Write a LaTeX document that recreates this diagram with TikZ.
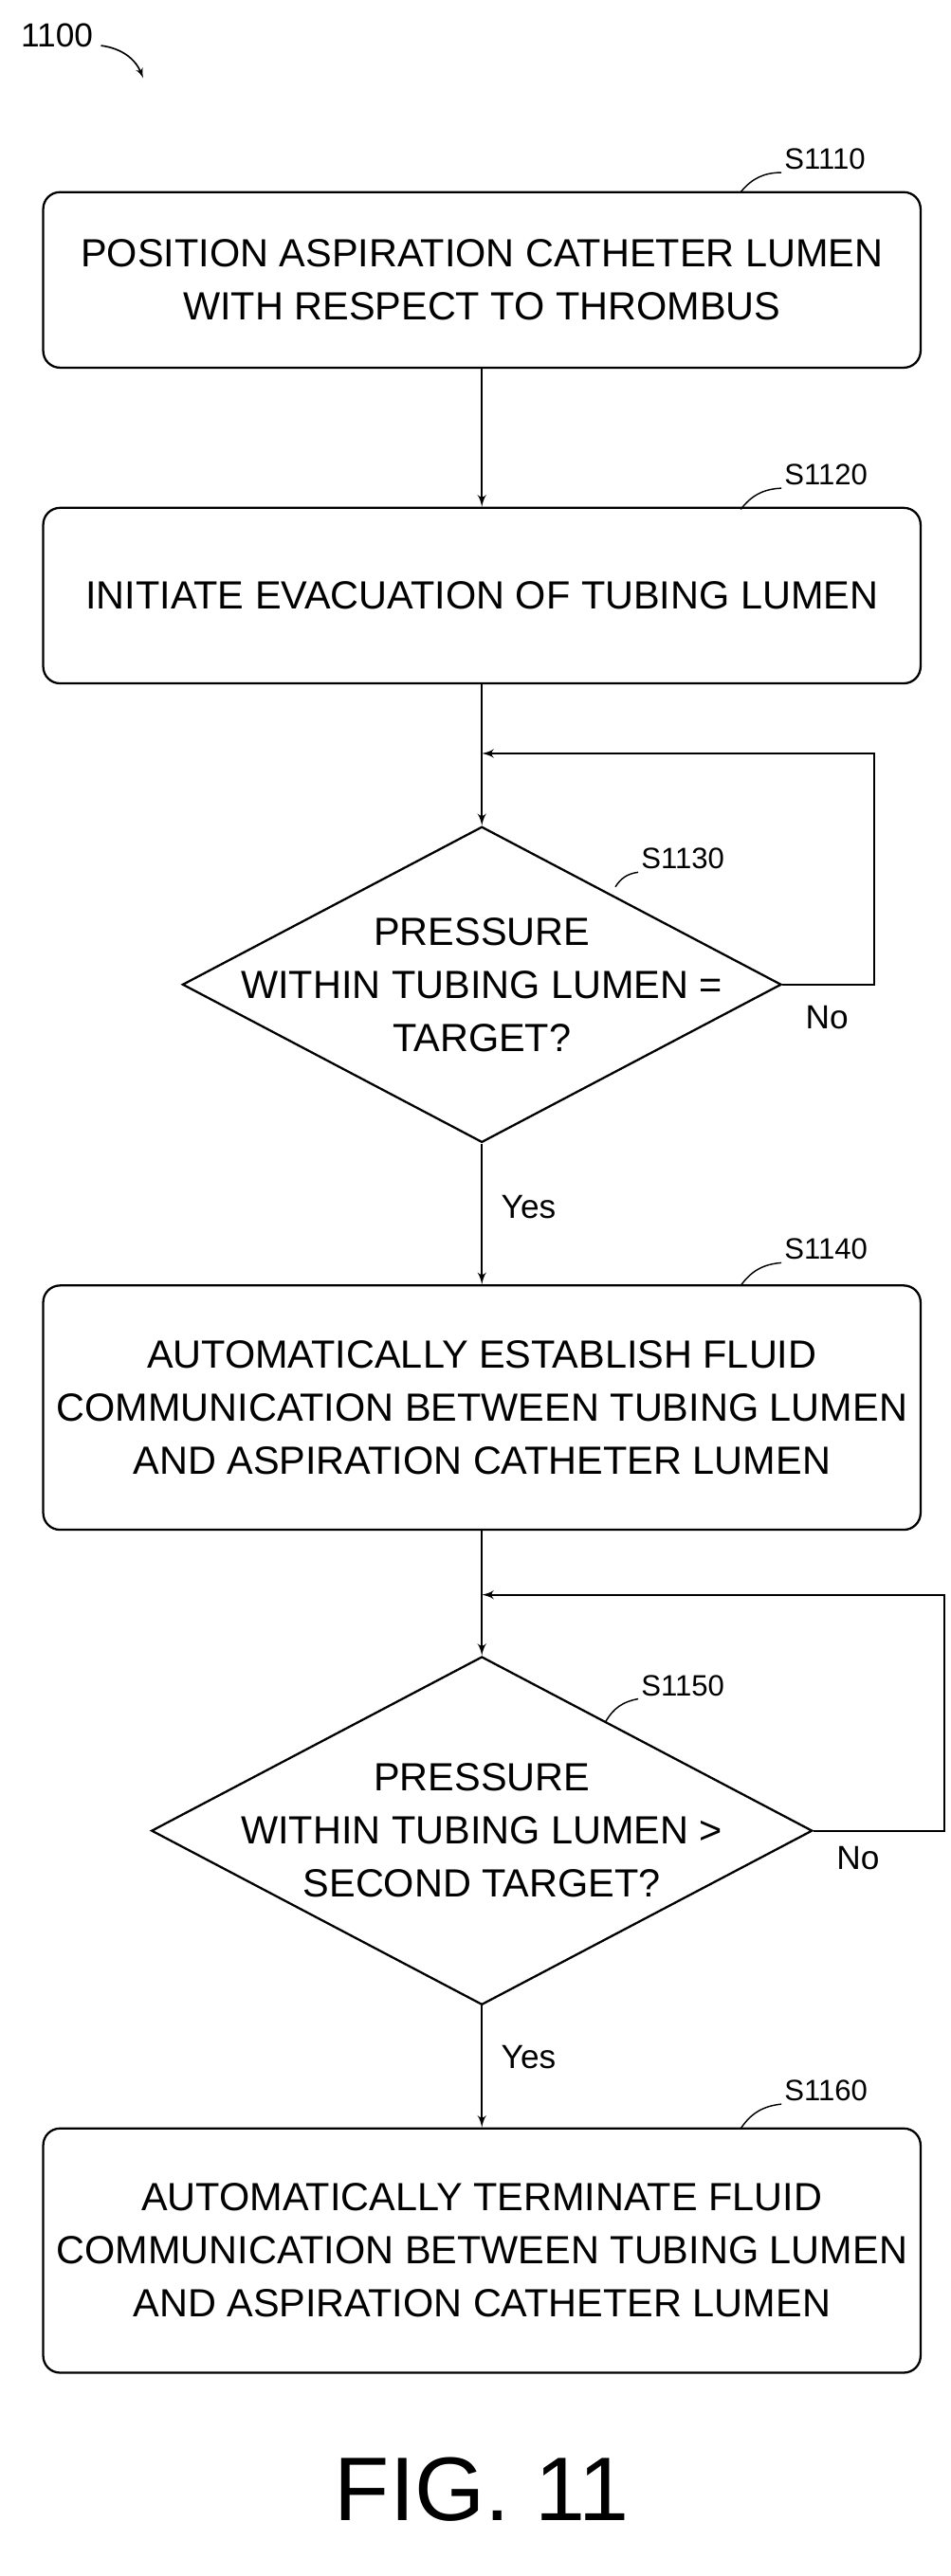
\documentclass[tikz,border=0pt]{standalone}
\usepackage{fontspec}
\setmainfont{Liberation Sans}
\usetikzlibrary{shapes.geometric,arrows,positioning,calc}
\tikzstyle{stepblock}=[draw, rectangle, rounded corners=0.3cm, minimum width=15.69cm, align=center, font=\fontsize{20}{27}\selectfont, line width=1.1pt]
\tikzstyle{decision}=[draw, diamond, inner sep=0pt, line width=1.1pt]
\tikzstyle{tag}=[font=\fontsize{15}{18}\selectfont, anchor=south west, inner sep=1pt]
\tikzstyle{answer}=[font=\fontsize{17}{20}\selectfont]
\begin{document}
\begin{tikzpicture}[x=0.02911cm, y=-0.02911cm, >=latex', line width=1.1pt]
  \useasboundingbox (0,0) rectangle (584,1583);
  \node[font=\fontsize{17}{20}\selectfont] (fignum) at (35,22) {1100};
  \draw[->, line width=0.8pt] (62,28) to[bend left=30] (88,48);
  % blocks
  \node[stepblock, minimum height=3.14cm] (b1) at (296,172) {POSITION ASPIRATION CATHETER LUMEN\\WITH RESPECT TO THROMBUS};
  \node[stepblock, minimum height=3.14cm] (b2) at (296,366) {INITIATE EVACUATION OF TUBING LUMEN};
  \node[decision, minimum width=10.71cm, minimum height=5.65cm] (d1) at (296,605) {};
  \node[align=center, font=\fontsize{20}{27}\selectfont] (t1) at (296,605) {PRESSURE\\WITHIN TUBING LUMEN =\\TARGET?};
  \node[stepblock, minimum height=4.37cm] (b3) at (296,865) {AUTOMATICALLY ESTABLISH FLUID\\COMMUNICATION BETWEEN TUBING LUMEN\\AND ASPIRATION CATHETER LUMEN};
  \node[decision, minimum width=11.82cm, minimum height=6.23cm] (d2) at (296,1125) {};
  \node[align=center, font=\fontsize{20}{27}\selectfont] (t2) at (296,1125) {PRESSURE\\WITHIN TUBING LUMEN >\\SECOND TARGET?};
  \node[stepblock, minimum height=4.37cm] (b4) at (296,1383) {AUTOMATICALLY TERMINATE FLUID\\COMMUNICATION BETWEEN TUBING LUMEN\\AND ASPIRATION CATHETER LUMEN};
  \node[font=\fontsize{46}{50}\selectfont] (fig) at (296,1530) {FIG. 11};
  % step tags
  \node[tag] (s1) at (480,106) {S1110};
  \node[tag] (s2) at (480,300) {S1120};
  \node[tag] (s3) at (392,536) {S1130};
  \node[tag] (s4) at (480,776) {S1140};
  \node[tag] (s5) at (392,1044) {S1150};
  \node[tag] (s6) at (480,1293) {S1160};
  \draw[line width=0.7pt] (s1.south west) to[bend right=25] (455,118);
  \draw[line width=0.7pt] (s2.south west) to[bend right=25] (455,313);
  \draw[line width=0.7pt] (s3.south west) to[bend right=25] (378,545);
  \draw[line width=0.7pt] (s4.south west) to[bend right=25] (455,790);
  \draw[line width=0.7pt] (s5.south west) to[bend right=25] (372,1058);
  \draw[line width=0.7pt] (s6.south west) to[bend right=25] (455,1308);
  % connectors
  \coordinate (loop1) at (537,463);
  \coordinate (loop2) at (580,980);
  \draw[->] (b1) -- (b2);
  \draw[->] (b2.south) -- (d1.north);
  \draw[->] (d1.east) -| (loop1) -- (296,463);
  \node[answer] (no1) at (508,625) {No};
  \draw[->] (d1.south) -- node[answer, pos=0.45, right=6pt] (yes1) {Yes} (b3.north);
  \draw[->] (b3.south) -- (d2.north);
  \draw[->] (d2.east) -| (loop2) -- (296,980);
  \node[answer] (no2) at (527,1142) {No};
  \draw[->] (d2.south) -- node[answer, pos=0.42, right=6pt] (yes2) {Yes} (b4.north);
\end{tikzpicture}
\end{document}
